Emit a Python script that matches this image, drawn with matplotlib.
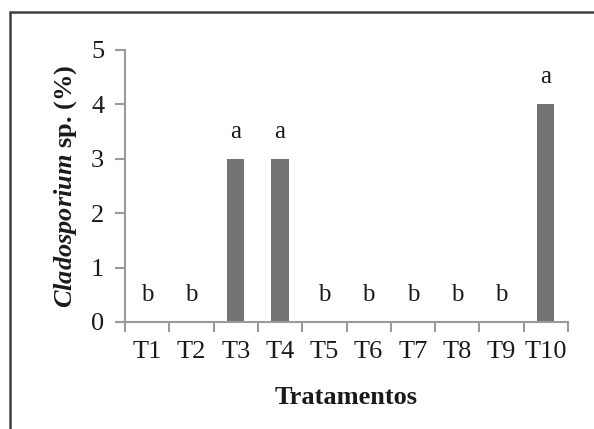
import matplotlib.pyplot as plt
from matplotlib.patches import Rectangle

plt.rcParams['font.family'] = ['Liberation Serif', 'DejaVu Serif']
plt.rcParams['mathtext.fontset'] = 'custom'
plt.rcParams['mathtext.rm'] = 'Liberation Serif'
plt.rcParams['mathtext.bf'] = 'Liberation Serif:bold'
plt.rcParams['mathtext.bfit'] = 'Liberation Serif:italic:bold'

tratamentos = ['T1', 'T2', 'T3', 'T4', 'T5', 'T6', 'T7', 'T8', 'T9', 'T10']
valores = [0, 0, 3, 3, 0, 0, 0, 0, 0, 4]
letras = ['b', 'b', 'a', 'a', 'b', 'b', 'b', 'b', 'b', 'a']

W, H = 594, 429
fig = plt.figure(figsize=(W / 100, H / 100), dpi=100)
ax = fig.add_axes([125 / W, 1 - 322 / H, (568 - 125) / W, (322 - 50) / H])

x = list(range(len(tratamentos)))
ax.bar(x, valores, width=0.39, color='#737373')
for xi, v, l in zip(x, valores, letras):
    ax.text(xi, v + 0.5, l, ha='center', va='center', fontsize=18, color='#1a1a1a')

ax.set_xlim(-0.5, len(tratamentos) - 0.5)
ax.set_ylim(0, 5)
ax.set_yticks([0, 1, 2, 3, 4, 5])
ax.set_xticks([i - 0.5 for i in range(len(tratamentos) + 1)])
ax.set_xticklabels([])
ax.set_xticks(x, minor=True)
ax.set_xticklabels(tratamentos, minor=True)
ax.tick_params(axis='x', which='major', length=7, color='#9a9a9a', width=1.5, direction='out')
ax.tick_params(axis='x', which='minor', length=0, pad=14, labelsize=19, labelcolor='#1a1a1a')
ax.tick_params(axis='y', length=7, color='#9a9a9a', width=1.5, labelsize=19, pad=8, labelcolor='#1a1a1a')
for s in ['top', 'right']:
    ax.spines[s].set_visible(False)
for s in ['left', 'bottom']:
    ax.spines[s].set_color('#9a9a9a')
    ax.spines[s].set_linewidth(1.5)

fig.text(346 / W, 1 - 398 / H, 'Tratamentos', fontsize=19, fontweight='bold',
         ha='center', va='center', color='#1a1a1a')
fig.text(66 / W, 1 - 186 / H, r'$\mathbfit{Cladosporium}$ sp. (%)', fontsize=19, fontweight='bold',
         rotation=90, ha='center', va='center', color='#1a1a1a')

# moldura da figura
fig.patches.append(Rectangle((10 / W, -0.1), 1.2, 1 - 12 / H + 0.1, transform=fig.transFigure,
                             fill=False, edgecolor='#404040', linewidth=1.8))

fig.savefig('out.png', dpi=100)
